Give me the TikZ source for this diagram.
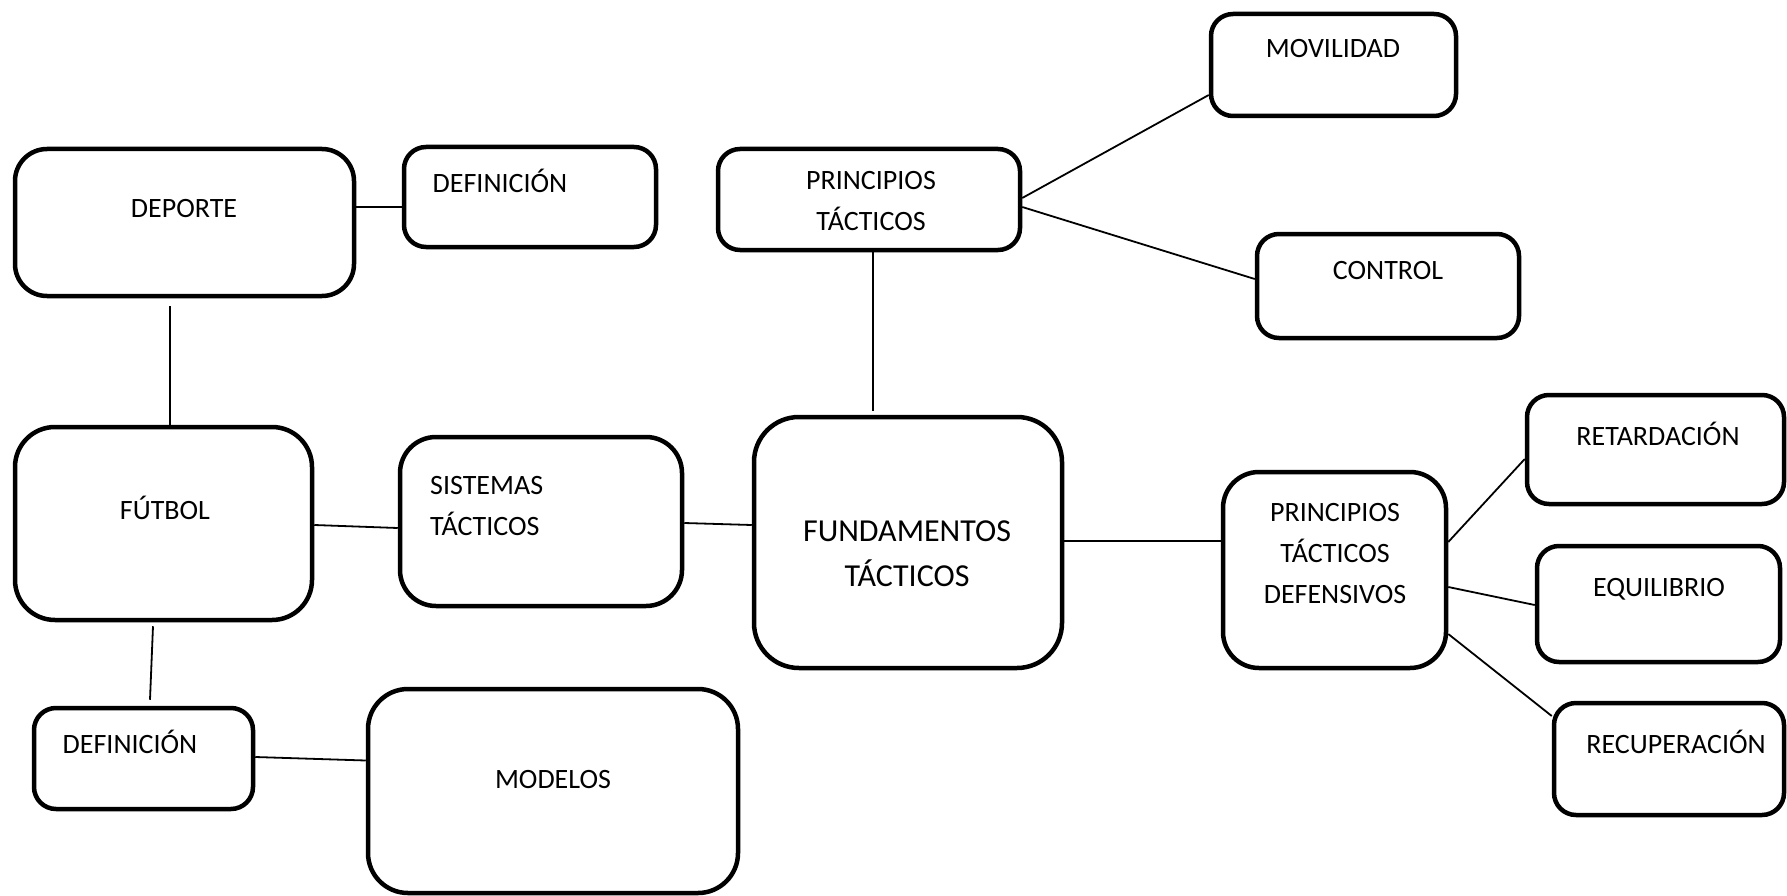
\documentclass[tikz,border=0pt]{standalone}
\usepackage{fontspec}
\setmainfont{Carlito}
\begin{document}
\begin{tikzpicture}[x=1pt,y=-1pt,
  box/.style={draw=black, line width=4.5pt, rounded corners=#1, inner sep=0pt, fill=white},
  box/.default=22pt,
  conn/.style={draw=black, line width=1.8pt},
  txt/.style={font=\fontsize{28}{41}\selectfont, align=center, inner sep=0pt},
  bigtxt/.style={font=\fontsize{32}{45}\selectfont, align=center, inner sep=0pt}]
\useasboundingbox[fill=white] (0,0) rectangle (1787,896);

% boxes
\node[box=32pt, minimum width=339pt, minimum height=147pt] (deporte) at (184.5,222.5) {};
\node[box, minimum width=252pt, minimum height=100pt] (def1) at (530,197) {};
\node[box, minimum width=302pt, minimum height=101pt] (pt) at (869,199.5) {};
\node[box, minimum width=245pt, minimum height=102pt] (mov) at (1333.5,65) {};
\node[box, minimum width=262pt, minimum height=104pt] (ctrl) at (1388,286) {};
\node[box=40pt, minimum width=297pt, minimum height=193pt] (fut) at (163.5,523.5) {};
\node[box=36pt, minimum width=282pt, minimum height=169pt] (sis) at (541,521.5) {};
\node[box=45pt, minimum width=308pt, minimum height=251pt] (fund) at (908,542.5) {};
\node[box=36pt, minimum width=223pt, minimum height=196pt] (ptd) at (1334.5,570) {};
\node[box, minimum width=257pt, minimum height=109pt] (ret) at (1655.5,449.5) {};
\node[box, minimum width=243pt, minimum height=116pt] (equ) at (1658.5,604) {};
\node[box, minimum width=230pt, minimum height=112pt] (rec) at (1669,759) {};
\node[box, minimum width=219pt, minimum height=101pt] (def2) at (143.5,758.5) {};
\node[box=40pt, minimum width=370pt, minimum height=204pt] (mod) at (553,791) {};

% texts
\node[txt] (tdeporte) at (184,209) {DEPORTE};
\node[txt] (tdef1) at (500,181) {DEFINICIÓN};
\node[txt] (tpt) at (871,201) {PRINCIPIOS\\TÁCTICOS};
\node[txt] (tmov) at (1333,49) {MOVILIDAD};
\node[txt] (tctrl) at (1388,271) {CONTROL};
\node[txt] (tfut) at (165,508) {FÚTBOL};
\node[txt, align=left, anchor=west] (tsis) at (430,506) {SISTEMAS\\TÁCTICOS};
\node[bigtxt] (tfund) at (907,554) {FUNDAMENTOS\\TÁCTICOS};
\node[txt] (tptd) at (1335,554) {PRINCIPIOS\\TÁCTICOS\\DEFENSIVOS};
\node[txt] (tret) at (1658,434) {RETARDACIÓN};
\node[txt] (tequ) at (1659,589) {EQUILIBRIO};
\node[txt] (trec) at (1676,742) {RECUPERACIÓN};
\node[txt] (tdef2) at (130,742) {DEFINICIÓN};
\node[txt] (tmod) at (553,780) {MODELOS};

% connectors
\draw[conn] ([yshift=15.5pt]deporte.east) -- ([yshift=-10pt]def1.west);
\draw[conn] ([xshift=-14.5pt,yshift=-8pt]deporte.south) -- ([xshift=6.5pt]fut.north);
\draw[conn] ([yshift=-1.5pt]fut.east) -- ([yshift=-6.5pt]sis.west);
\draw[conn] ([yshift=-1.5pt]sis.east) -- ([yshift=17.5pt]fund.west);
\draw[conn] ([xshift=-4pt,yshift=1.5pt]fund.east) -- ([yshift=29pt]ptd.west);
\draw[conn] ([xshift=4pt]pt.south) -- ([xshift=-35pt,yshift=4pt]fund.north);
\draw[conn] ([yshift=1.5pt]pt.east) -- ([yshift=-30pt]mov.west);
\draw[conn] ([yshift=-7.5pt]pt.east) -- ([yshift=7pt]ctrl.west);
\draw[conn] ([yshift=28pt]ptd.east) -- ([yshift=-9.5pt]ret.west);
\draw[conn] ([yshift=-17pt]ptd.east) -- ([yshift=-1pt]equ.west);
\draw[conn] ([yshift=-64pt]ptd.east) -- ([yshift=43pt]rec.west);
\draw[conn] ([xshift=-10.5pt,yshift=-4pt]fut.south) -- ([xshift=6.5pt,yshift=6pt]def2.north);
\draw[conn] ([yshift=1.5pt]def2.east) -- ([yshift=30.5pt]mod.west);
\end{tikzpicture}
\end{document}
